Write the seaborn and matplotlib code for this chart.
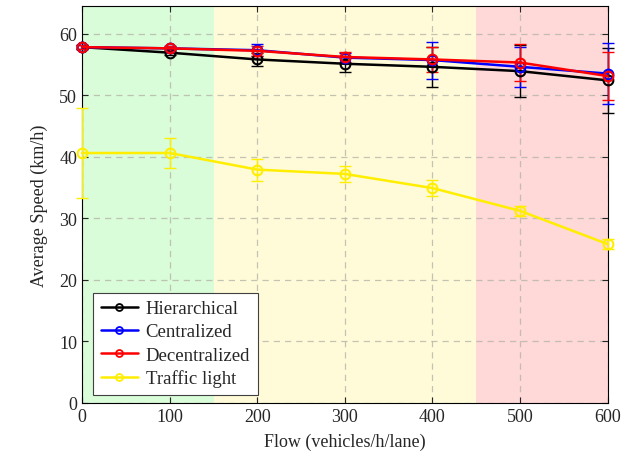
import matplotlib
matplotlib.use("Agg")
import matplotlib.pyplot as plt
import seaborn as sns
import pandas as pd

flow = [0, 100, 200, 300, 400, 500, 600]
series_names = ["Hierarchical", "Centralized", "Decentralized", "Traffic light"]
hier_speed = [57.8, 56.9, 55.8, 55.1, 54.6, 53.9, 52.4]
hier_err = [0.3, 0.4, 1.0, 1.3, 3.3, 4.2, 5.3]
cent_speed = [57.8, 57.6, 57.3, 56.1, 55.7, 54.6, 53.5]
cent_err = [0.3, 0.4, 1.0, 0.8, 3.0, 3.3, 5.0]
dec_speed = [57.8, 57.6, 57.2, 56.2, 55.8, 55.3, 53.1]
dec_err = [0.3, 0.4, 0.8, 0.8, 2.0, 3.0, 3.9]
tl_speed = [40.6, 40.6, 37.9, 37.2, 34.9, 31.2, 25.8]
tl_err = [7.3, 2.4, 1.8, 1.3, 1.3, 0.8, 0.8]
colors = ["black", "#0000ff", "#ff0000", "#ffee00"]
zones = [(0, 150, "#d9fcd9"), (150, 450, "#fffbd8"), (450, 600, "#ffd8d8")]

sns.set_theme(style="ticks")
plt.rcParams["font.family"] = ["Liberation Serif", "DejaVu Serif"]
plt.rcParams["mathtext.fontset"] = "dejavuserif"

rows = []
for name, sp in zip(series_names, [hier_speed, cent_speed, dec_speed, tl_speed]):
    for f, s in zip(flow, sp):
        rows.append({"Flow": f, "Speed": s, "Series": name})
df = pd.DataFrame(rows)

fig = plt.figure(figsize=(6.22, 4.60), dpi=100)
ax = fig.add_axes([0.132, 0.122, 0.845, 0.863])

for x0, x1, c in zones:
    ax.axvspan(x0, x1, color=c, zorder=0, lw=0)

sns.lineplot(data=df, x="Flow", y="Speed", hue="Series", hue_order=series_names,
             palette=colors, marker="o", markersize=7, ax=ax, linewidth=1.8,
             zorder=4, clip_on=False)
data_lines = list(ax.get_lines())
for ln, c in zip(data_lines, colors):
    ln.set_markeredgecolor(c)
    ln.set_markerfacecolor("none")
    ln.set_markeredgewidth(1.5)

errs = [hier_err, cent_err, dec_err, tl_err]
sps = [hier_speed, cent_speed, dec_speed, tl_speed]
for sp, er, c in zip(sps, errs, colors):
    ax.errorbar(flow, sp, yerr=er, fmt="none", ecolor=c, elinewidth=1.0,
                capsize=4, capthick=1.0, zorder=3, clip_on=False)

ax.set_xlim(0, 600)
ax.set_ylim(0, 64.5)
ax.set_xticks(flow)
ax.set_yticks([0, 10, 20, 30, 40, 50, 60])
ax.grid(True, linestyle=(0, (5, 4)), color="#b5b5a8", linewidth=0.9, alpha=0.8)
ax.set_axisbelow(True)
ax.tick_params(direction="in", top=True, right=True, length=4, labelsize=13, width=0.8)
for s in ax.spines.values():
    s.set_color("black")
    s.set_linewidth(0.8)
    s.set_zorder(2.5)

ax.set_xlabel("Flow (vehicles/h/lane)", fontsize=13, labelpad=6)
ax.set_ylabel("Average Speed (km/h)", fontsize=13, labelpad=8)

handles, labels = ax.get_legend_handles_labels()
for h, c in zip(handles, colors):
    h.set_markeredgecolor(c)
    h.set_markerfacecolor("none")
    h.set_markeredgewidth(1.3)
    h.set_markersize(5)
leg = ax.legend(handles, labels, loc="lower left", bbox_to_anchor=(0.021, 0.02),
                fontsize=13.5, frameon=True, fancybox=False, edgecolor="#404040",
                framealpha=1, borderpad=0.4, handlelength=2.0, handletextpad=0.4,
                labelspacing=0.32, borderaxespad=0.0)
leg.get_frame().set_linewidth(0.8)
leg.set_zorder(10)

fig.savefig("out.png", dpi=100)
